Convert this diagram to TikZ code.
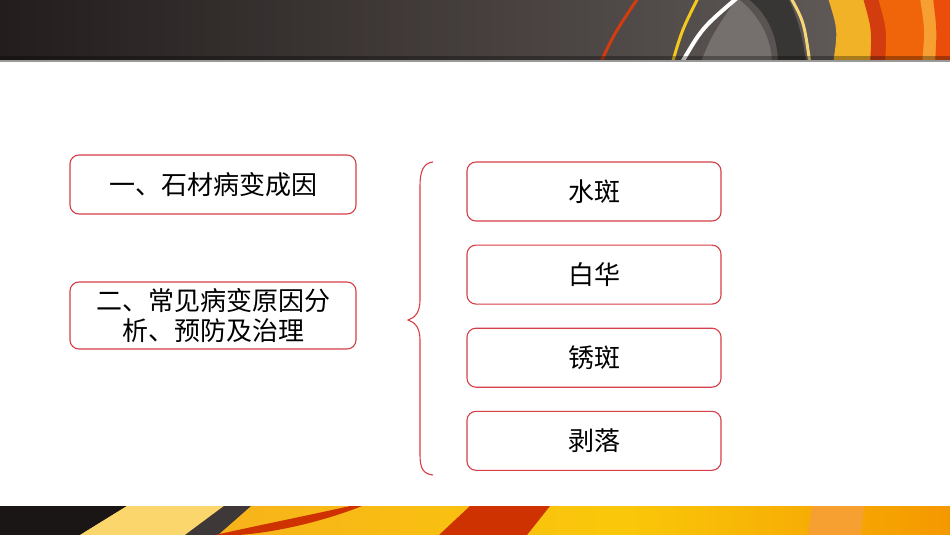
\documentclass[tikz,border=0pt]{standalone}
\usepackage{fontspec}
\newfontfamily\cjk{Noto Sans CJK SC}
\usetikzlibrary{positioning}
\definecolor{boxred}{RGB}{214,62,72}
\definecolor{darkbar}{RGB}{36,29,29}
\definecolor{greybar}{RGB}{102,96,94}
\definecolor{swred}{RGB}{210,60,15}
\definecolor{swyellow}{RGB}{245,200,30}
\definecolor{swpale}{RGB}{245,215,120}
\definecolor{swband}{RGB}{56,53,53}
\definecolor{swamber}{RGB}{242,178,40}
\definecolor{sworange}{RGB}{240,100,10}
\definecolor{swlight}{RGB}{246,160,50}
\definecolor{swdeep}{RGB}{234,78,10}
\definecolor{barblack}{RGB}{26,22,22}
\definecolor{barcream}{RGB}{250,214,108}
\definecolor{bargrey}{RGB}{62,56,56}
\definecolor{barorange}{RGB}{246,168,36}
\definecolor{baryellow}{RGB}{250,200,10}
\definecolor{barend}{RGB}{245,152,0}
\definecolor{barred}{RGB}{205,50,0}
\begin{document}
\begin{tikzpicture}[x=1pt,y=-1pt,
  item/.style={draw=boxred, line width=1.1pt, rounded corners=9pt, fill=white,
    font=\cjk\fontsize{26}{30}\selectfont, align=center, inner sep=0pt},
  topic/.style={item, minimum width=286pt},
  part/.style={item, minimum width=254pt, minimum height=59pt}]
\useasboundingbox (0,0) rectangle (950,535);
\fill[white] (0,0) rectangle (950,535);
% top banner
\begin{scope}
\clip (0,0) rectangle (950,62);
\shade[left color=darkbar, right color=greybar] (0,0) rectangle (950,62);
\fill[greybar!90!white] (737,-2) .. controls (760,15) and (772,40) .. (772,64)
  -- (700,64) .. controls (712,35) .. (737,-2) -- cycle;
\draw[swred, line width=3pt] (600,64) .. controls (614,34) .. (638,-2);
\draw[swyellow, line width=3pt] (672,64) .. controls (682,30) .. (698,-2);
\draw[white, line width=4pt] (681,64) .. controls (702,28) .. (737,-2);
\fill[swband] (747,-2) .. controls (770,15) and (778,40) .. (778,64)
  -- (806,64) .. controls (803,35) and (796,15) .. (788,-2) -- cycle;
\draw[swpale, line width=3pt] (791,-2) .. controls (804,22) .. (810,64);
\fill[swamber] (828,-2) .. controls (838,30) .. (833,64) -- (950,64) -- (950,-2) -- cycle;
\fill[swred] (863,-2) .. controls (872,30) .. (870,64) -- (950,64) -- (950,-2) -- cycle;
\fill[sworange] (878,-2) .. controls (887,30) .. (885,64) -- (950,64) -- (950,-2) -- cycle;
\fill[swlight] (920,-2) .. controls (925,30) .. (922,64) -- (950,64) -- (950,-2) -- cycle;
\fill[swdeep] (933,-2) .. controls (937,30) .. (935,64) -- (950,64) -- (950,-2) -- cycle;
\fill[black, opacity=.3] (0,56) rectangle (950,60);
\fill[black!40] (0,60) rectangle (950,62);
\end{scope}
% bottom banner
\shade[left color=barorange, right color=baryellow] (0,506) rectangle (624,535);
\shade[left color=baryellow, right color=barend] (624,506) rectangle (950,535);
\fill[barblack] (0,506) -- (127,506) -- (80,535) -- (0,535) -- cycle;
\fill[barcream] (127,506) -- (224,506) -- (185,535) -- (80,535) -- cycle;
\fill[bargrey] (224,506) -- (251,506) -- (218,535) -- (185,535) -- cycle;
\fill[barred] (215,535) .. controls (260,525) and (310,515) .. (350,506)
  -- (362,506) .. controls (322,522) and (272,533) .. (238,535) -- cycle;
\fill[barred] (470,506) -- (550,506) -- (527,535) -- (439,535) -- cycle;
\fill[swlight] (812,506) -- (864,506) -- (861,535) -- (808,535) -- cycle;
% left column
\node[topic, minimum height=59pt] (yi) at (213,184.5) {一、石材病变成因};
\node[topic, minimum height=67pt] (er) at (213,315.5) {二、常见病变原因分\\析、预防及治理};
% right column
\node[part] (shuiban) at (594,191.5) {水斑};
\node[part] (baihua) [below=23pt of shuiban] {白华};
\node[part] (xiuban) [below=23pt of baihua] {锈斑};
\node[part] (boluo) [below=23pt of xiuban] {剥落};
% brace
\draw[boxred, line width=1.1pt]
  (433,162) .. controls (423,163) and (420,172) .. (420,186) -- (420,300)
  .. controls (420,312) and (415,318) .. (408,320)
  .. controls (415,322) and (420,328) .. (420,340) -- (420,455)
  .. controls (420,468) and (423,474) .. (433,475);
\end{tikzpicture}
\end{document}
